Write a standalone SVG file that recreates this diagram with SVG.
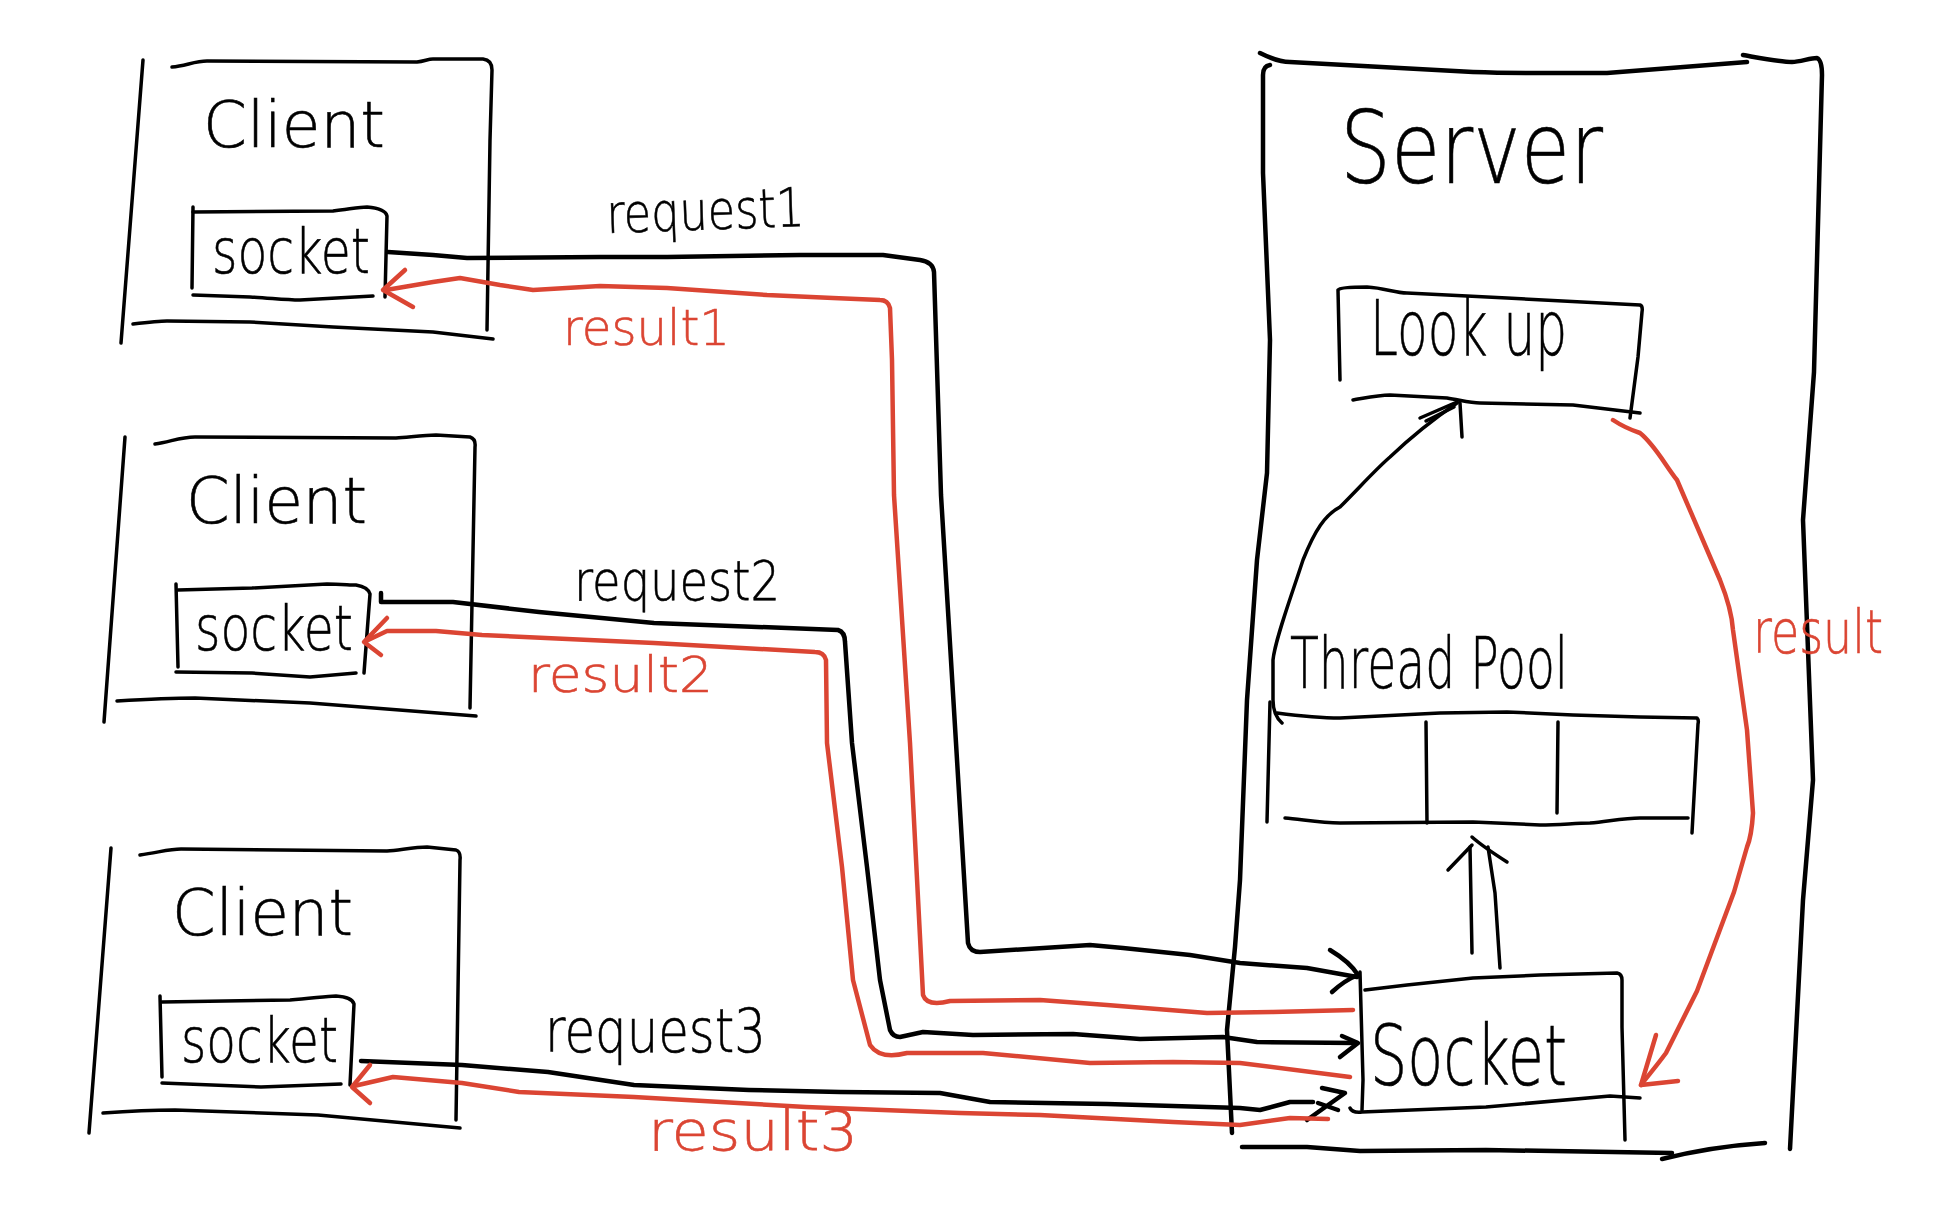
<svg xmlns="http://www.w3.org/2000/svg" width="1942" height="1220" viewBox="0 0 1942 1220">
<style>
.ln{fill:none;stroke:#000;stroke-width:3.5;stroke-linecap:round;stroke-linejoin:round}
.cb{fill:none;stroke:#000;stroke-width:4.5;stroke-linecap:round;stroke-linejoin:round}
.cr{fill:none;stroke:#db4533;stroke-width:4.5;stroke-linecap:round;stroke-linejoin:round}
.t{font-family:"DejaVu Sans","Liberation Sans",Arial,sans-serif;font-weight:200;fill:#000;stroke:#000;stroke-width:0.6}
.tr{font-family:"DejaVu Sans","Liberation Sans",Arial,sans-serif;font-weight:200;fill:#db4533;stroke:#db4533;stroke-width:0.6}
</style>
<rect width="1942" height="1220" fill="#fff"/>

<g id="client1">
<path class="ln" d="M143,60 L121,343"/>
<path class="ln" d="M172,67 C185,66 195,61 207,61 L417,62 C425,61 428,59 433,59 L483,59 Q492,60 492,70 L490,140 L487,330"/>
<path class="ln" d="M133,324 C150,322 160,321 167,321 L250,322 L333,327 L433,332 L493,339"/>
<text class="t" x="203" y="147" font-size="64" textLength="182" lengthAdjust="spacingAndGlyphs">Client</text>
</g>
<g id="client1-socket">
<path class="ln" d="M193,212 L333,211 C350,209 360,207 367,207 C378,208 386,211 387,216 L385,297"/>
<path class="ln" d="M193,207 L192,288"/>
<path class="ln" d="M193,295 L250,297 C270,298 285,300 300,300 L373,296"/>
<text class="t" x="212" y="273" font-size="62" textLength="158" lengthAdjust="spacingAndGlyphs">socket</text>
</g>

<g id="client2">
<path class="ln" d="M125,437 L104,722"/>
<path class="ln" d="M155,444 C170,442 180,437 195,437 L396,438 C410,437 425,435 436,435 L470,437 Q476,439 475,447 L470,708"/>
<path class="ln" d="M117,701 C150,699 180,698 195,698 L310,703 L476,716"/>
<text class="t" x="186" y="523" font-size="64" textLength="181" lengthAdjust="spacingAndGlyphs">Client</text>
</g>
<g id="client2-socket">
<path class="ln" d="M178,590 L252,588 L327,584 C340,584 350,585 356,585 Q368,587 370,594 L364,673"/>
<path class="ln" d="M176,584 L178,667"/>
<path class="ln" d="M176,672 L252,673 L310,677 L356,673"/>
<text class="t" x="195" y="650" font-size="62" textLength="158" lengthAdjust="spacingAndGlyphs">socket</text>
</g>

<g id="client3">
<path class="ln" d="M111,848 L89,1133"/>
<path class="ln" d="M140,855 C160,852 170,849 181,849 L387,851 C400,850 415,847 427,847 L456,850 Q461,852 460,860 L456,1120"/>
<path class="ln" d="M103,1113 C130,1111 160,1110 175,1110 L318,1115 L460,1128"/>
<text class="t" x="172" y="935" font-size="64" textLength="181" lengthAdjust="spacingAndGlyphs">Client</text>
</g>
<g id="client3-socket">
<path class="ln" d="M162,1002 L290,1000 C310,999 325,996 336,996 Q352,997 354,1004 L350,1085"/>
<path class="ln" d="M160,996 L162,1077"/>
<path class="ln" d="M162,1083 L261,1087 L341,1084"/>
<text class="t" x="181" y="1062" font-size="62" textLength="157" lengthAdjust="spacingAndGlyphs">socket</text>
</g>

<g id="server">
<path class="cb" d="M1260,53 C1270,58 1280,62 1290,62 L1473,72 C1500,73 1520,73 1540,73 L1607,73 L1747,62"/>
<path class="cb" d="M1743,55 C1760,58 1780,62 1792,62 C1800,62 1810,58 1817,58 Q1822,60 1822,75 L1814,372 L1803,520 L1813,780 L1803,900 L1790,1149"/>
<path class="cb" d="M1270,65 Q1263,66 1263,75 L1263,173 L1270,340 L1267,473 L1257,560 L1247,700 L1240,880 L1235,947 L1227,1030 L1232,1133"/>
<path class="cb" d="M1242,1147 L1307,1147 L1360,1151 L1486,1150 L1672,1153"/>
<path class="cb" d="M1662,1159 C1690,1152 1720,1146 1765,1143"/>
<text class="t" x="1340" y="183" font-size="100" textLength="263" lengthAdjust="spacingAndGlyphs">Server</text>
</g>

<g id="lookup">
<path class="ln" d="M1340,380 L1338,290 Q1340,287 1367,287 C1385,288 1395,293 1407,293 L1507,298 L1640,305 Q1643,306 1642,312 L1638,357 L1630,418"/>
<path class="ln" d="M1353,400 C1365,398 1378,395 1390,395 L1447,398 C1460,400 1470,403 1480,403 L1573,405 L1640,413"/>
<text class="t" x="1370" y="355" font-size="76" textLength="197" lengthAdjust="spacingAndGlyphs">Look up</text>
</g>

<g id="thread-pool">
<text class="t" x="1290" y="688" font-size="72" textLength="278" lengthAdjust="spacingAndGlyphs">Thread Pool</text>
<path class="ln" d="M1270,702 L1267,822"/>
<path class="ln" d="M1277,713 C1300,716 1320,718 1340,718 L1440,713 L1507,712 L1573,715 L1640,717 L1697,718 Q1699,720 1698,724 L1692,833"/>
<path class="ln" d="M1285,818 C1300,819 1320,823 1340,823 L1473,822 L1540,825 C1560,825 1575,823 1590,823 C1610,821 1625,818 1640,818 L1688,818"/>
<path class="ln" d="M1426,722 L1427,823"/>
<path class="ln" d="M1558,722 L1557,813"/>
</g>

<g id="server-socket">
<path class="ln" d="M1365,990 L1407,985 L1473,978 L1540,975 L1617,973 Q1622,974 1622,980 L1622,1027 L1625,1140"/>
<path class="ln" d="M1360,972 L1363,1080 L1362,1110"/>
<path class="ln" d="M1350,1108 Q1352,1113 1362,1112 L1486,1107 L1610,1096 L1640,1098"/>
<text class="t" x="1370" y="1085" font-size="84" textLength="197" lengthAdjust="spacingAndGlyphs">Socket</text>
</g>

<g id="connectors">
<path class="cb" d="M388,252 L433,255 L467,258 L600,257 L667,257 L800,255 L883,255 L920,260 Q933,262 934,272 L941,495 L956,743 L968,943 Q970,952 980,952 L1090,945 L1123,948 L1190,955 L1240,963 L1307,968 L1357,977"/>
<path class="cb" d="M1330,950 Q1350,962 1358,975 Q1345,980 1332,992"/>
<path class="cr" d="M1353,1010 L1273,1012 L1207,1013 L1107,1005 L1040,1000 L950,1001 Q927,1007 923,995 L910,743 L894,495 L892,360 L890,308 Q888,300 880,300 L833,298 L767,295 L667,288 L600,286 L533,290 L500,285 L460,278 L433,282 L386,290"/>
<path class="cr" d="M405,270 L383,290 L413,307"/>

<path class="cb" d="M381,593 L381,602 L453,602 L539,612 L654,623 L838,630 Q845,632 845,642 L852,743 L867,867 L880,980 L890,1030 Q893,1037 900,1037 L923,1032 L973,1035 L1073,1034 L1140,1039 L1223,1037 L1257,1042 L1357,1043"/>
<path class="cb" d="M1342,1036 L1358,1043 L1340,1057"/>
<path class="cr" d="M1350,1077 L1240,1063 L1173,1062 L1090,1063 L983,1053 L907,1053 Q880,1060 870,1045 L853,980 L842,867 L827,743 L826,660 Q824,652 815,652 L654,643 L482,635 L436,631 L387,631 L366,641"/>
<path class="cr" d="M387,618 L364,642 L381,655"/>

<path class="cb" d="M361,1061 L462,1065 L548,1072 L634,1085 L749,1090 L840,1092 L940,1093 L990,1102 L1107,1104 L1240,1108 L1260,1110 L1290,1102 L1313,1102"/>
<path class="cb" d="M1322,1088 L1345,1093 L1307,1120 M1318,1103 L1338,1110"/>
<path class="cr" d="M1328,1119 L1290,1118 L1240,1125 L1173,1122 L1040,1115 L960,1113 L806,1107 L634,1097 L519,1092 L462,1083 L393,1077 L354,1086"/>
<path class="cr" d="M370,1065 L352,1087 L370,1103"/>

<path class="ln" d="M1282,723 Q1273,715 1273,700 L1273,660 C1275,640 1290,600 1303,560 C1315,530 1325,515 1340,507 C1360,487 1375,470 1390,457 C1410,438 1435,418 1457,403"/>
<path class="ln" d="M1420,418 L1457,402 M1426,421 L1454,407 M1460,403 L1462,437"/>

<path class="ln" d="M1472,953 L1470,847"/>
<path class="ln" d="M1500,968 L1495,893 L1488,847"/>
<path class="ln" d="M1448,870 L1472,845 M1472,837 Q1482,846 1507,862"/>

<path class="cr" d="M1613,420 Q1625,428 1640,433 C1655,445 1665,465 1677,480 L1720,580 C1728,600 1732,615 1733,630 L1747,730 L1753,813 C1752,830 1750,840 1747,847 L1734,892 L1697,991 L1666,1053 C1655,1068 1646,1078 1641,1085"/>
<path class="cr" d="M1656,1035 L1641,1085 L1678,1081"/>
</g>

<g id="labels">
<text class="t" x="607" y="233" font-size="54" textLength="198" lengthAdjust="spacingAndGlyphs" transform="rotate(-2 607 233)">request1</text>
<text class="tr" x="563" y="345" font-size="50" textLength="167" lengthAdjust="spacingAndGlyphs">result1</text>
<text class="t" x="574" y="600" font-size="56" textLength="206" lengthAdjust="spacingAndGlyphs">request2</text>
<text class="tr" x="528" y="692" font-size="50" textLength="185" lengthAdjust="spacingAndGlyphs">result2</text>
<text class="t" x="545" y="1052" font-size="60" textLength="221" lengthAdjust="spacingAndGlyphs">request3</text>
<text class="tr" x="648" y="1150" font-size="56" textLength="210" lengthAdjust="spacingAndGlyphs">result3</text>
<text class="tr" x="1753" y="653" font-size="60" textLength="130" lengthAdjust="spacingAndGlyphs">result</text>
</g>
</svg>
